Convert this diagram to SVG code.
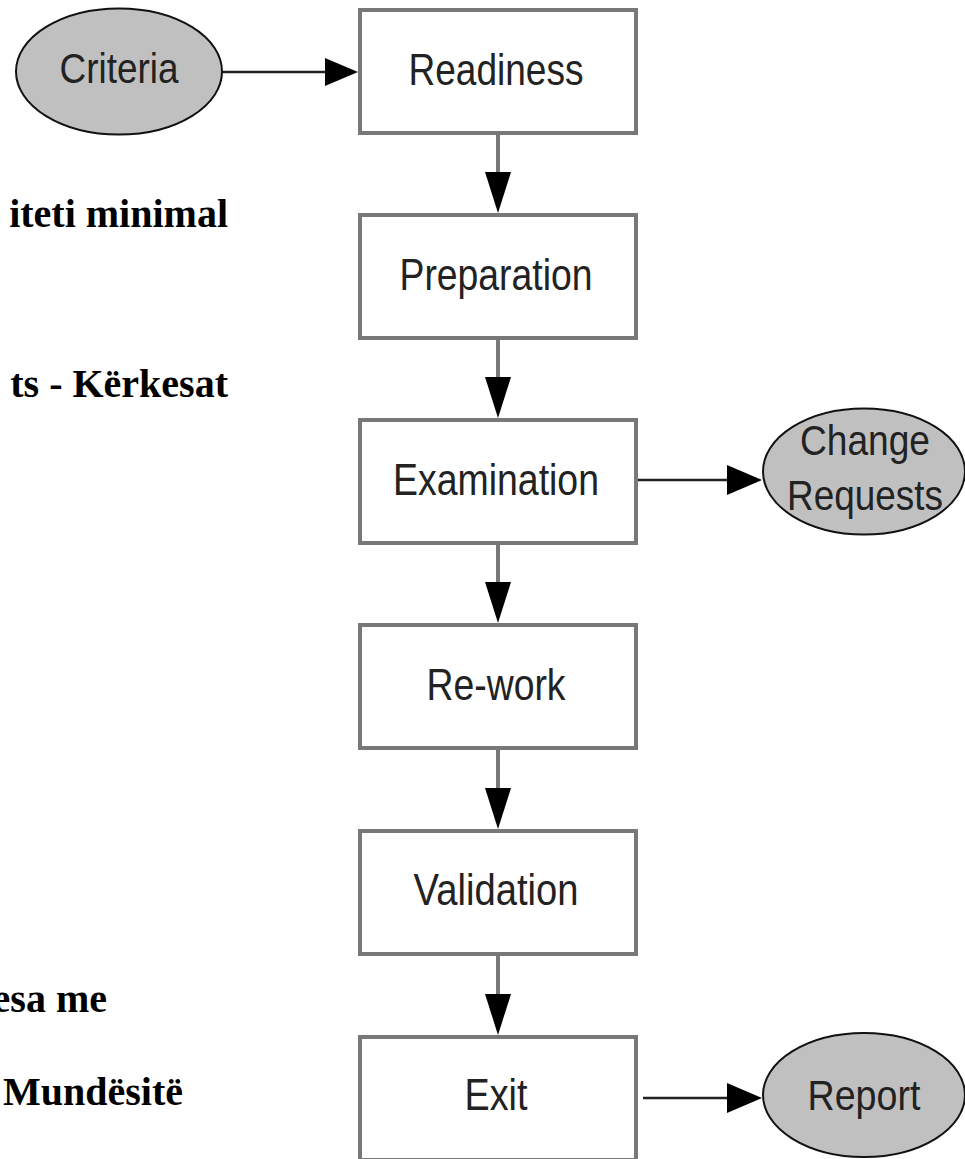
<svg xmlns="http://www.w3.org/2000/svg" width="965" height="1159" viewBox="0 0 965 1159">
<style>
.box{fill:#fff;stroke:#787878;stroke-width:4}
.oval{fill:#c0c0c0;stroke:#111;stroke-width:2}
.lbl{font-family:"Liberation Sans",Arial,sans-serif;font-size:44px;fill:#222;text-anchor:middle}
.olbl{font-family:"Liberation Sans",Arial,sans-serif;font-size:43px;fill:#222;text-anchor:middle}
.side{font-family:"Liberation Serif","Times New Roman",serif;font-size:40px;font-weight:bold;fill:#000;text-anchor:end}
.vline{stroke:#787878;stroke-width:4;fill:none}
.hline{stroke:#222;stroke-width:2.5;fill:none}
.head{fill:#000}
</style>
<rect width="965" height="1159" fill="#fff"/>
<g id="side-texts">
<text class="side" x="228" y="227">iteti minimal</text>
<text class="side" x="228" y="397">ts - Kërkesat</text>
<text class="side" x="107" y="1012">esa me</text>
<text class="side" x="183" y="1105">Mundësitë</text>
</g>
<g id="connectors">
<line class="hline" x1="222" y1="72" x2="330" y2="72"/>
<polygon class="head" points="325,58 358,72 325,86"/>
<line class="vline" x1="498" y1="133" x2="498" y2="178"/>
<polygon class="head" points="485,172 511,172 498,213"/>
<line class="vline" x1="498" y1="338" x2="498" y2="383"/>
<polygon class="head" points="485,377 511,377 498,418"/>
<line class="vline" x1="498" y1="543" x2="498" y2="588"/>
<polygon class="head" points="485,582 511,582 498,623"/>
<line class="vline" x1="498" y1="748" x2="498" y2="794"/>
<polygon class="head" points="485,788 511,788 498,829"/>
<line class="vline" x1="498" y1="954" x2="498" y2="1000"/>
<polygon class="head" points="485,994 511,994 498,1035"/>
<line class="hline" x1="638" y1="480" x2="732" y2="480"/>
<polygon class="head" points="727,465 762,480 727,495"/>
<line class="hline" x1="643" y1="1098" x2="732" y2="1098"/>
<polygon class="head" points="727,1083 762,1098 727,1113"/>
</g>
<g id="criteria">
<ellipse class="oval" cx="119" cy="71.5" rx="103" ry="63"/>
<text class="olbl" x="119" y="83" textLength="119" lengthAdjust="spacingAndGlyphs">Criteria</text>
</g>
<g id="readiness">
<rect class="box" x="360" y="10" width="276" height="123"/>
<text class="lbl" x="496" y="85" textLength="175" lengthAdjust="spacingAndGlyphs">Readiness</text>
</g>
<g id="preparation">
<rect class="box" x="360" y="215" width="276" height="123"/>
<text class="lbl" x="496" y="290" textLength="193" lengthAdjust="spacingAndGlyphs">Preparation</text>
</g>
<g id="examination">
<rect class="box" x="360" y="420" width="276" height="123"/>
<text class="lbl" x="496" y="495" textLength="206" lengthAdjust="spacingAndGlyphs">Examination</text>
</g>
<g id="rework">
<rect class="box" x="360" y="625" width="276" height="123"/>
<text class="lbl" x="496" y="700" textLength="139" lengthAdjust="spacingAndGlyphs">Re-work</text>
</g>
<g id="validation">
<rect class="box" x="360" y="831" width="276" height="123"/>
<text class="lbl" x="496" y="905" textLength="165" lengthAdjust="spacingAndGlyphs">Validation</text>
</g>
<g id="exit">
<rect class="box" x="360" y="1037" width="276" height="123"/>
<text class="lbl" x="496" y="1110" textLength="63" lengthAdjust="spacingAndGlyphs">Exit</text>
</g>
<g id="change-requests">
<ellipse class="oval" cx="864" cy="471.5" rx="101" ry="63"/>
<text class="olbl" x="865" y="455" textLength="130" lengthAdjust="spacingAndGlyphs">Change</text>
<text class="olbl" x="865" y="510" textLength="156" lengthAdjust="spacingAndGlyphs">Requests</text>
</g>
<g id="report">
<ellipse class="oval" cx="864" cy="1095" rx="101" ry="62"/>
<text class="olbl" x="864" y="1110" textLength="113" lengthAdjust="spacingAndGlyphs">Report</text>
</g>
</svg>
